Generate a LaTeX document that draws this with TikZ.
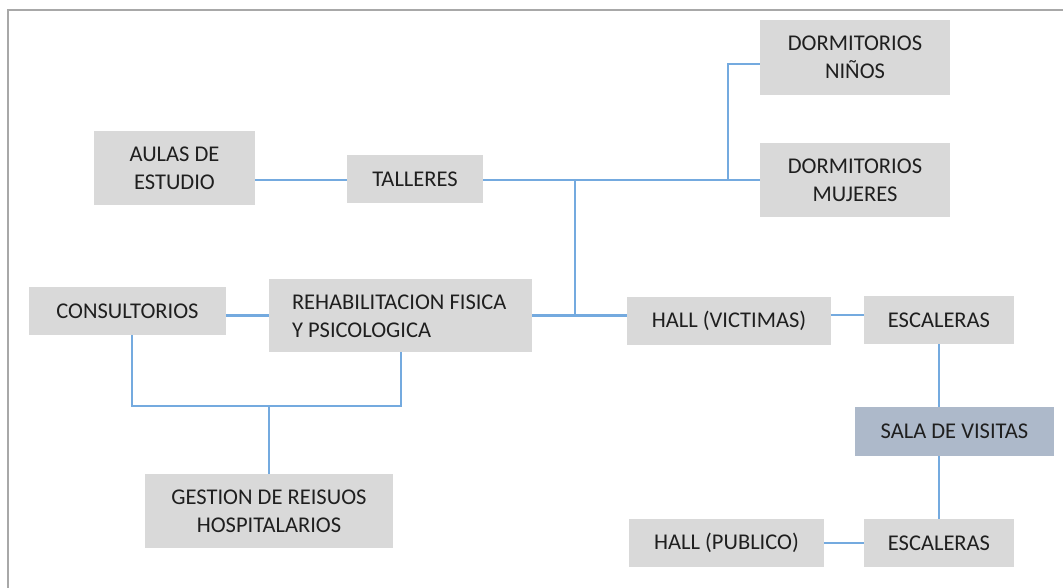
\documentclass[tikz,border=0pt]{standalone}
\usepackage{fontspec}
\setmainfont{Carlito}
\begin{document}
\begin{tikzpicture}[x=1pt,y=-1pt,
  every node/.style={font=\fontsize{22.5}{28}\selectfont, text=black!88},
  box/.style={rectangle, fill=boxgray, inner sep=0pt, align=center},
  link/.style={draw=linkblue, line width=2.4pt}]
\definecolor{boxgray}{HTML}{D9D9D9}
\definecolor{salablue}{HTML}{ADB9CA}
\definecolor{linkblue}{HTML}{74AADF}
\definecolor{framegray}{HTML}{A8A8A8}
\useasboundingbox (0,0) rectangle (1063,588);
% outer frame
\draw[framegray, line width=2pt] (1075,10) -- (8,10) -- (8,600);

% rooms
\node[box, minimum width=161, minimum height=74] (aulas) at (174.5,168) {AULAS DE\\ESTUDIO};
\node[box, minimum width=136, minimum height=48] (talleres) at (415,179) {TALLERES};
\node[box, minimum width=190, minimum height=75] (ninos) at (855,57.5) {DORMITORIOS\\NIÑOS};
\node[box, minimum width=190, minimum height=74] (mujeres) at (855,180) {DORMITORIOS\\MUJERES};
\node[box, minimum width=197, minimum height=48] (consult) at (127.5,311) {CONSULTORIOS};
\node[box, minimum width=263, minimum height=73] (rehab) at (400.5,315.5) {};
\node[anchor=west, align=left, inner sep=0pt] (rehabtxt) at ([xshift=23pt,yshift=-1pt]rehab.west) {REHABILITACION FISICA\\Y PSICOLOGICA};
\node[box, minimum width=248, minimum height=74] (gestion) at (269,511) {GESTION DE REISUOS\\HOSPITALARIOS};
\node[box, minimum width=204, minimum height=48] (hallv) at (729,321) {HALL (VICTIMAS)};
\node[box, minimum width=150, minimum height=48] (esc1) at (939,320) {ESCALERAS};
\node[box, fill=salablue, minimum width=199, minimum height=49] (sala) at (954.5,431.5) {SALA DE VISITAS};
\node[box, minimum width=150, minimum height=48] (esc2) at (939,543) {ESCALERAS};
\node[box, minimum width=195, minimum height=48] (hallp) at (726.5,543) {HALL (PUBLICO)};

% junction points
\coordinate (jt) at (575,180);
\coordinate (jd) at (728,180);
\coordinate (jn) at (728,64);
\coordinate (jh) at (575,315.5);
\coordinate (jc) at (132,406);
\coordinate (jr) at (401,406);
\coordinate (jg) at (269,406);

% connectors
\draw[link] (aulas.east |- jt) -- (talleres.west |- jt);
\draw[link] (talleres.east |- jt) -- (mujeres.west |- jt);
\draw[link] (jd) -- (jn) -- (ninos.west |- jn);
\draw[link] (jt) -- (jh);
\draw[link] (rehab.east) -- (rehab.east -| hallv.west);
\draw[link] (rehab.west) -- (rehab.west -| consult.east);
\draw[link] (consult.south -| jc) -- (jc) -- (jr) -- (rehab.south -| jr);
\draw[link] (jg) -- (gestion.north);
\draw[link] ([yshift=6pt]hallv.east) -- ([yshift=6pt]hallv.east -| esc1.west);
\draw[link] (esc1.south) -- (esc1.south |- sala.north);
\draw[link] (esc2.north |- sala.south) -- (esc2.north);
\draw[link] (hallp.east) -- (esc2.west);
\end{tikzpicture}
\end{document}
